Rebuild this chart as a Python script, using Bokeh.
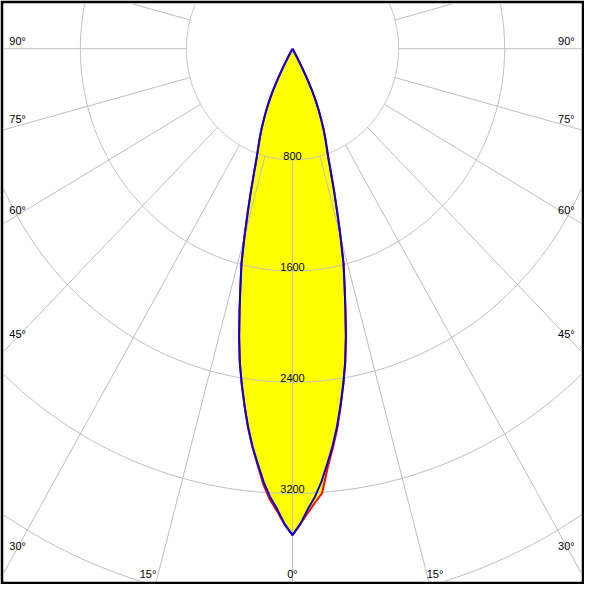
import numpy as np
from bokeh.plotting import figure
from bokeh.models import Range1d
from bokeh.core.properties import value
from bokeh.embed import file_html
from bokeh.resources import INLINE

# ---------------- data (luminous intensity, cd, vs gamma angle, degrees) ----------------
gamma = list(range(0, 31))
c0 = [3500, 3420, 3340, 3270, 3205, 3030, 2895, 2760, 2605, 2450, 2290,
      2110, 1920, 1745, 1590, 1400, 1225, 1075, 940, 830, 755,
      690, 625, 555, 490, 420, 340, 250, 150, 60, 0]
c180 = [3500, 3425, 3330, 3250, 3145, 3010, 2885, 2750, 2600, 2445, 2290,
        2110, 1920, 1745, 1590, 1400, 1225, 1075, 940, 830, 755,
        690, 625, 555, 490, 420, 340, 250, 150, 60, 0]
c90 = [3500, 3420, 3315, 3230, 3125, 3000, 2880, 2745, 2595, 2445, 2290,
       2110, 1920, 1745, 1590, 1400, 1225, 1075, 940, 830, 755,
       690, 625, 555, 490, 420, 340, 250, 150, 60, 0]
c270 = [3500, 3420, 3315, 3230, 3125, 3000, 2880, 2745, 2595, 2445, 2290,
        2110, 1920, 1745, 1590, 1400, 1225, 1075, 940, 830, 755,
        690, 625, 555, 490, 420, 340, 250, 150, 60, 0]

ring_values = [800, 1600, 2400, 3200, 4000]
ring_labels = ["800", "1600", "2400", "3200"]
ray_angles = list(range(-180, 181, 15))
side_labels = ["90°", "75°", "60°", "45°", "30°"]
bottom_labels = ["15°", "0°", "15°"]

# ---------------- layout (reference pixel geometry) ----------------
W = 584
S = W / 600.0
CX, CY = 300.0, 49.5          # pole position in reference pixels
SX, SY = 0.13625, 0.1428      # px per cd, horizontal / vertical
BORDER = 3
side_label_py = [41.5, 121.5, 215, 343, 561]
left_label_px, right_label_px = 9, 590
bottom_label_px = [151.5, 300, 446.5]
bottom_label_py = 589


def dx(px):
    return (px - CX) / SX


def dy(py):
    return -(py - CY) / SY


def polar(r, a_deg):
    a = np.radians(np.asarray(a_deg, dtype=float))
    r = np.asarray(r, dtype=float)
    return r * np.sin(a), -r * np.cos(a)


p = figure(width=W, height=W, output_backend="svg", toolbar_location=None,
           x_range=Range1d(dx(BORDER), dx(600 - BORDER)),
           y_range=Range1d(dy(600 - BORDER), dy(BORDER)),
           min_border=0, min_border_left=BORDER, min_border_right=BORDER,
           min_border_top=BORDER, min_border_bottom=BORDER)
p.border_fill_color = "black"
p.background_fill_color = "white"
p.outline_line_color = None
p.xaxis.visible = False
p.yaxis.visible = False
p.grid.visible = False


def curve(left_vals, right_vals):
    lx, ly = polar(left_vals[::-1], [-g for g in gamma[::-1]])
    rx, ry = polar(right_vals[1:], gamma[1:])
    return np.concatenate([lx, rx]), np.concatenate([ly, ry])


red_x, red_y = curve(c180, c0)
blue_x, blue_y = curve(c270, c90)

# yellow fills
p.patch(red_x, red_y, fill_color="#FFFF00", line_color=None)
p.patch(blue_x, blue_y, fill_color="#FFFF00", line_color=None)

# grid: rings
t = np.linspace(0, 360, 721)
for r in ring_values:
    gx, gy = polar(np.full_like(t, r), t)
    p.line(gx, gy, line_color="#BEBEBE", line_width=1)

# grid: rays from the first ring outward
for a in ray_angles:
    gx, gy = polar([ring_values[0], 8000], [a, a])
    p.line(gx, gy, line_color="#BEBEBE", line_width=1)

# curves
p.line(red_x, red_y, line_color="#FF0000", line_width=2)
p.line(blue_x, blue_y, line_color="#0000E6", line_width=2)

font = value("Liberation Sans")
fs = value("11px")

# ring value labels
rl_x, rl_y = polar(ring_values[:len(ring_labels)], [0] * len(ring_labels))
p.text(x=list(rl_x), y=list(rl_y), text=ring_labels, text_align="center",
       text_baseline="bottom", text_font=font,
       text_font_size=fs, text_color="black")

# side angle labels
p.text(x=[dx(left_label_px)] * len(side_labels), y=[dy(v) for v in side_label_py],
       text=side_labels, text_align="left", text_baseline="middle",
       text_font=font, text_font_size=fs, text_color="black")
p.text(x=[dx(right_label_px)] * len(side_labels), y=[dy(v) for v in side_label_py],
       text=side_labels, text_align="right", text_baseline="middle",
       text_font=font, text_font_size=fs, text_color="black")

# bottom angle labels
p.text(x=[dx(v) for v in bottom_label_px], y=[dy(bottom_label_py)] * 3,
       text=bottom_labels, text_align="center", text_baseline="middle",
       text_font=font, text_font_size=fs, text_color="black")

open("out.html", "w").write(file_html(p, INLINE))
